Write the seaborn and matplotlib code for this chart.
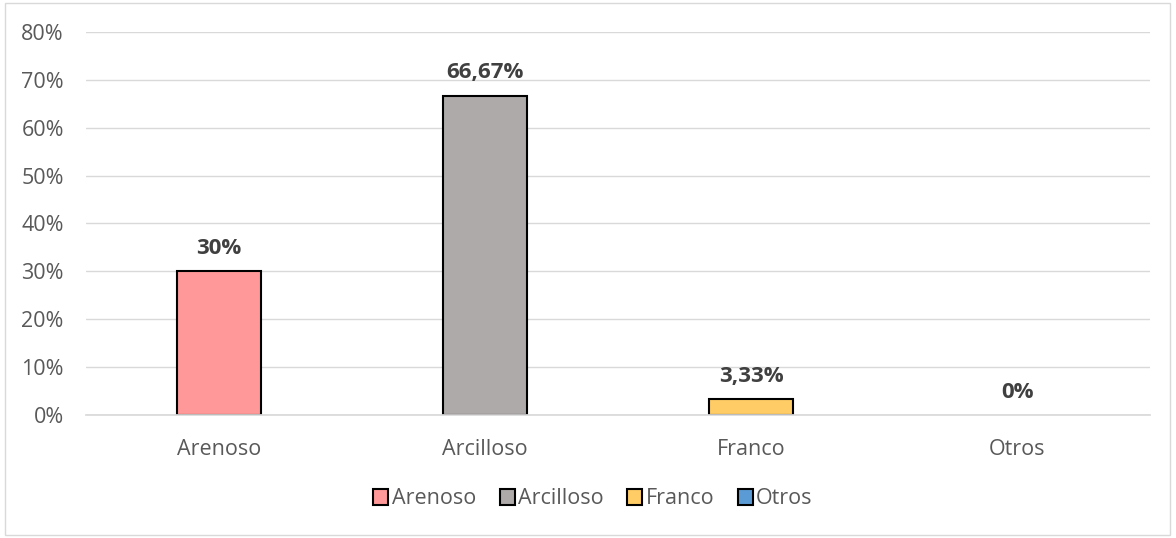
import matplotlib
matplotlib.use("Agg")
import matplotlib.pyplot as plt
import seaborn as sns
import pandas as pd
from matplotlib.patches import Rectangle
from matplotlib.ticker import FuncFormatter, MultipleLocator

categories = ["Arenoso", "Arcilloso", "Franco", "Otros"]
values = [30.0, 66.67, 3.33, 0.0]
value_labels = ["30%", "66,67%", "3,33%", "0%"]
colors = ["#FF9999", "#AEAAAA", "#FFCC66", "#5B9BD5"]

sns.set_theme(style="white")
plt.rcParams['font.family'] = ['Open Sans', 'DejaVu Sans']

fig = plt.figure(figsize=(11.76, 5.38), dpi=100)
fig.patches.append(Rectangle((5/1176, 3/538), 1165/1176, 532/538, transform=fig.transFigure,
                             fill=False, edgecolor="#D9D9D9", linewidth=1))
ax = fig.add_axes([86/1176, 1 - 415/538, 1064/1176, 383/538])

df = pd.DataFrame({"cat": categories, "val": values})
sns.barplot(data=df, x="cat", y="val", hue="cat", palette=colors, dodge=False, saturation=1,
            width=0.316, edgecolor="black", linewidth=1.5, ax=ax, legend=False)
for p in ax.patches:
    if p.get_height() == 0:
        p.set_linewidth(0)

ax.set_ylim(0, 80)
ax.yaxis.set_major_locator(MultipleLocator(10))
ax.yaxis.set_major_formatter(FuncFormatter(lambda v, p: f"{int(v)}%"))
ax.grid(axis="y", color="#D9D9D9", linewidth=1)
ax.set_axisbelow(True)
for s in ["top", "right", "left"]:
    ax.spines[s].set_visible(False)
ax.spines["bottom"].set_color("#D9D9D9")
ax.set_xlabel("")
ax.set_ylabel("")
ax.tick_params(axis="both", length=0, labelsize=15.5, colors="#595959")
ax.tick_params(axis="x", pad=17)
ax.tick_params(axis="y", pad=16)

for i, (v, lab) in enumerate(zip(values, value_labels)):
    ax.annotate(lab, (i, v), xytext=(0, 9), textcoords="offset points",
                ha="center", va="bottom", fontsize=16, fontweight="bold", color="#404040")

handles = [Rectangle((0, 0), 1, 1, facecolor=c, edgecolor="black", linewidth=1.5) for c in colors]
fig.legend(handles, categories, loc="center", bbox_to_anchor=(593/1176, 1 - 499/538), ncol=4,
           frameon=False, handlelength=0.7, handleheight=0.7, handletextpad=0.15,
           columnspacing=1.1, prop={"size": 15.5}, labelcolor="#595959")

fig.savefig("out.png", dpi=100)
